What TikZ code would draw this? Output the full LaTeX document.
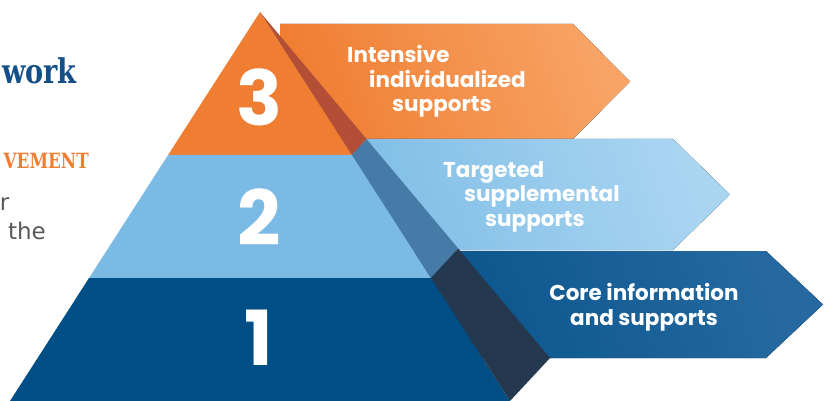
\documentclass[tikz,border=0pt]{standalone}
\usepackage{fontspec}
\setmainfont{Poppins}
\newfontfamily\slabfont{DejaVu Serif}
\newfontfamily\bodyfont{DejaVu Sans}
\usetikzlibrary{calc}

\definecolor{tierorange}{RGB}{240,126,50}
\definecolor{tierorangepale}{RGB}{247,164,102}
\definecolor{tierlight}{RGB}{122,186,229}
\definecolor{tierlightpale}{RGB}{169,213,241}
\definecolor{tierdark}{RGB}{0,78,134}
\definecolor{tierdarkpale}{RGB}{37,105,160}
\definecolor{sideorange}{RGB}{179,79,55}
\definecolor{sidelight}{RGB}{70,123,168}
\definecolor{sidedark}{RGB}{36,56,80}
\definecolor{titleblue}{RGB}{20,80,135}
\definecolor{bodygray}{RGB}{88,88,88}

\tikzset{
  tiernum/.style={text=white, inner sep=0pt, font=\fontsize{76}{76}\selectfont\bfseries},
  bannertext/.style={text=white, inner sep=0pt, align=left, anchor=base west,
    font=\fontsize{21.5}{24.5}\selectfont\bfseries},
  sidetext/.style={inner sep=0pt, anchor=base east},
}

\begin{document}
\begin{tikzpicture}[x=1pt,y=-1pt]
\useasboundingbox (0,0) rectangle (825,401);

% banners, behind the pyramid
\foreach \top/\bot/\tipx/\dark/\pale in {24/139/630/tierorange/tierorangepale,
    139/250/730/tierlight/tierlightpale, 251/358/823/tierdark/tierdarkpale} {
  \fill[left color=\dark, right color=\pale, shading angle=110]
    (280,\top) -- (\tipx-57,\top) -- (\tipx,{(\top+\bot)/2}) -- (\tipx-57,\bot) -- (280,\bot) -- cycle;
}

% pyramid
\coordinate (apex) at (260,12);
\coordinate (frontL) at (10,401);
\coordinate (frontR) at (510,401);
\coordinate (back) at (550,358);
\foreach \from/\to/\front/\side in {0/0.3676/tierorange/sideorange,
    0.3676/0.6838/tierlight/sidelight, 0.6838/1/tierdark/sidedark} {
  \fill[\front] ($(apex)!\from!(frontL)$) -- ($(apex)!\to!(frontL)$)
    -- ($(apex)!\to!(frontR)$) -- ($(apex)!\from!(frontR)$) -- cycle;
  \fill[\side] ($(apex)!\from!(frontR)$) -- ($(apex)!\to!(frontR)$)
    -- ($(apex)!\to!(back)$) -- ($(apex)!\from!(back)$) -- cycle;
}

% tier numbers
\node[tiernum] (num3) at (259,97) {3};
\node[tiernum] (num2) at (259,217) {2};
\node[tiernum] (num1) at (259,338) {1};

% banner texts
\node[bannertext] (tier3) at (347,112)
  {Intensive\\\hspace*{22pt}individualized\\\hspace*{45pt}supports};
\node[bannertext] (tier2) at (443,226)
  {Targeted\\\hspace*{21pt}supplemental\\\hspace*{42pt}supports};
\node[bannertext, align=center, anchor=base] (tier1) at (644,325)
  {Core information\\and supports};

% cut-off text on the left
\node[sidetext, text=titleblue, font=\slabfont\bfseries\fontsize{34}{34}\selectfont]
  (title) at (77,84) {\scalebox{0.8}[1]{work}};
\node[sidetext, text=tierorange, font=\slabfont\bfseries\fontsize{21}{21}\selectfont]
  (subtitle) at (89,168) {\scalebox{0.8}[1]{VEMENT}};
\node[sidetext, text=bodygray, font=\bodyfont\fontsize{23}{23}\selectfont]
  (body1) at (9.5,211) {r};
\node[sidetext, text=bodygray, font=\bodyfont\fontsize{23}{23}\selectfont]
  (body2) at (46,239) {the};
\end{tikzpicture}
\end{document}
